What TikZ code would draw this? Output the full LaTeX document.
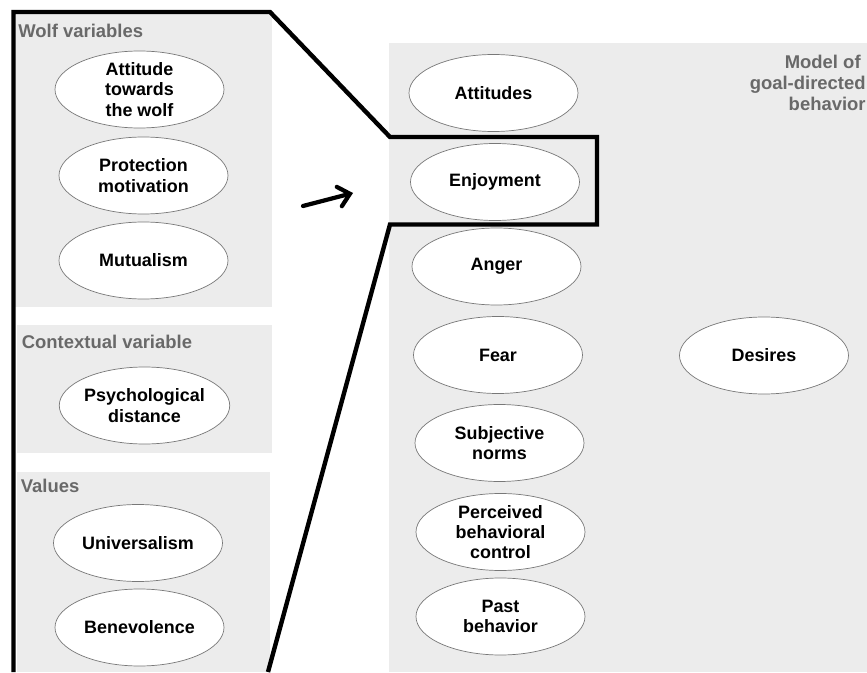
\documentclass[tikz,border=0pt]{standalone}
\usepackage{fontspec}
\setmainfont{Liberation Sans}
\usetikzlibrary{shapes.geometric,arrows.meta}

\definecolor{panelgray}{RGB}{236,236,236}
\definecolor{labelgray}{RGB}{105,105,105}
\definecolor{rimgray}{RGB}{120,120,120}

\begin{document}
\begin{tikzpicture}[
    v/.style={ellipse, draw=rimgray, line width=0.4pt, fill=white,
        minimum width=3.38cm, minimum height=1.54cm, inner xsep=0pt, inner ysep=-1.5pt,
        align=center, font=\fontsize{10.2}{11.6}\selectfont\bfseries},
    panel/.style={fill=panelgray, draw=none},
    lbl/.style={text=labelgray, inner sep=0pt, font=\fontsize{10.5}{12}\selectfont\bfseries},
    e/.style={line width=2.5pt, line join=miter}
]

    \useasboundingbox (0,0) rectangle (17.34,13.44);

    % panels
    \fill[panel] (0.28,13.2) rectangle (5.44,7.30);
    \fill[panel] (0.34,6.94) rectangle (5.44,4.38);
    \fill[panel] (0.34,4.00) rectangle (5.40,0);
    \fill[panel] (7.78,12.58) rectangle (17.34,0);

    % zoom outline
    \draw[e] (0.27,0) -- (0.27,13.2) -- (5.40,13.2) -- (7.80,10.70)
        -- (11.94,10.70) -- (11.94,8.95) -- (7.80,8.95) -- (5.36,0);

    % panel titles
    \node[lbl, anchor=base west] (wolf) at (0.36,12.68) {Wolf variables};
    \node[lbl, anchor=base west] (ctx) at (0.43,6.46) {Contextual variable};
    \node[lbl, anchor=base west] (val) at (0.41,3.59) {Values};
    \node[lbl, anchor=north east, align=right] (mgb) at (17.32,12.34)
        {Model of\hspace*{0.1cm}\\goal-directed\\behavior};

    % wolf variables
    \node[v] (attw) at (2.79,11.65) {Attitude\\towards\\the wolf};
    \node[v] (prot) at (2.87,9.93) {Protection\\motivation};
    \node[v] (mutu) at (2.87,8.23) {Mutualism};

    % contextual variable
    \node[v] (psyc) at (2.89,5.33) {Psychological\\distance};

    % values
    \node[v] (univ) at (2.76,2.58) {Universalism};
    \node[v] (bene) at (2.79,0.89) {Benevolence};

    % model of goal-directed behavior
    \node[v] (atti) at (9.87,11.58) {Attitudes};
    \node[v] (enjo) at (9.90,9.80) {Enjoyment};
    \node[v] (ange) at (9.93,8.11) {Anger};
    \node[v] (fear) at (9.96,6.34) {Fear};
    \node[v] (subj) at (9.99,4.58) {Subjective\\norms};
    \node[v] (perc) at (10.01,2.80) {Perceived\\behavioral\\control};
    \node[v] (past) at (10.01,1.11) {Past\\behavior};
    \node[v] (desi) at (15.28,6.33) {Desires};

    % arrow
    \coordinate (arrA) at (6.06,9.32);
    \coordinate (arrB) at (7.06,9.58);
    \draw[line width=2.4pt, line cap=round,
        -{Straight Barb[length=2.2mm,width=4mm,line cap=round]}] (arrA) -- (arrB);

\end{tikzpicture}
\end{document}
